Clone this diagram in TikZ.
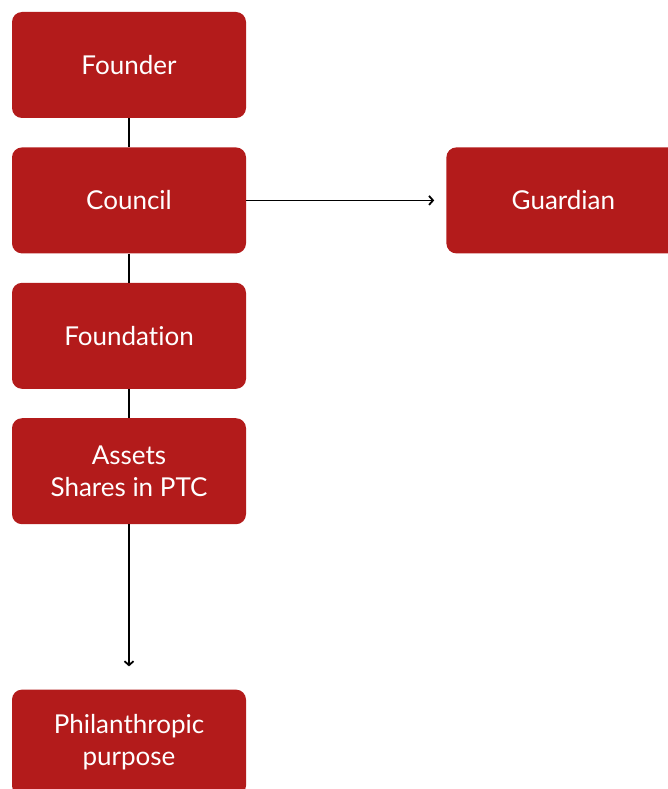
\documentclass[tikz,border=0pt]{standalone}
\usepackage{fontspec}
\setmainfont[Ligatures={NoCommon}]{Lato}
\usetikzlibrary{arrows.meta,positioning}
\definecolor{boxred}{HTML}{B31B1B}
\tikzset{
box/.style={rectangle,rounded corners=10pt,fill=boxred,text=white,
  minimum width=234pt,minimum height=106pt,align=center,
  font=\fontsize{26}{32}\selectfont},
link/.style={line width=1.6pt},
arr/.style={link,-{Straight Barb[length=4pt,width=9pt,line width=1.8pt]}},
}

\begin{document}
\begin{tikzpicture}[x=1pt,y=-1pt,node distance=29pt]
    \useasboundingbox (0,0) rectangle (668,789);
    \node[box] (founder) at (129,65) {Founder};
    \node[box,below=of founder] (council) {Council};
    \node[box,below=of council] (foundation) {Foundation};
    \node[box,below=of foundation] (assets) {Assets\\Shares in PTC};
    \node[box,below=165pt of assets] (purpose) {Philanthropic\\purpose};
    \node[box,right=200pt of council] (guardian) {Guardian};

    \draw[link] (founder) -- (council);
    \draw[link] (council) -- (foundation);
    \draw[link] (foundation) -- (assets);
    \draw[arr,shorten >=23pt] (assets) -- (purpose);
    \draw[arr,shorten >=12pt] (council) -- (guardian);
\end{tikzpicture}
\end{document}
